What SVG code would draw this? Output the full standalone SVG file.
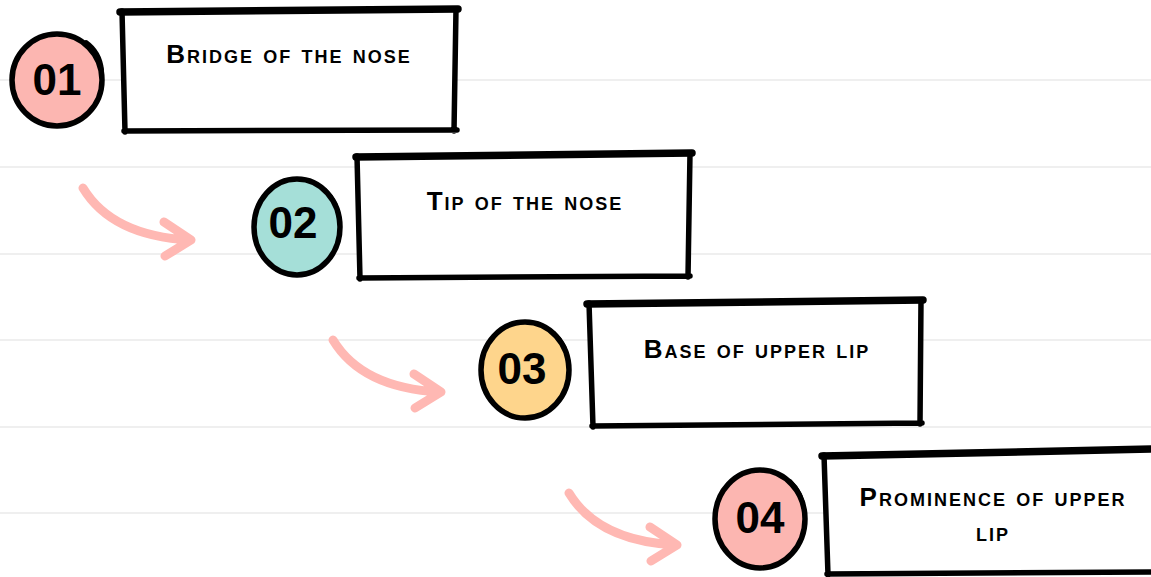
<svg xmlns="http://www.w3.org/2000/svg" width="1151" height="577" viewBox="0 0 1151 577">
<style>
.bg{stroke:#efefef;stroke-width:2}
.box{fill:#ffffff;stroke:none}
.edge{fill:none;stroke:#000;stroke-width:5.5;stroke-linecap:round;stroke-linejoin:round}
.top{stroke-width:7.5}
.ring{stroke:#000;stroke-width:5.5}
.tail{fill:none;stroke:#000;stroke-width:4;stroke-linecap:round}
.num{font-family:"Liberation Sans",Arial,sans-serif;font-weight:700;font-size:44px;fill:#000;text-anchor:middle}
.lbl{font-family:"Liberation Sans",Arial,sans-serif;font-weight:700;font-size:26px;font-variant:small-caps;letter-spacing:2px;fill:#000;text-anchor:middle}
.arr{fill:none;stroke:#ffb8b3;stroke-width:9;stroke-linecap:round;stroke-linejoin:round}
</style>
<rect x="0" y="0" width="1151" height="577" fill="#ffffff"/>
<g id="background">
<line class="bg" x1="0" y1="80" x2="1151" y2="80"/>
<line class="bg" x1="0" y1="167" x2="1151" y2="167"/>
<line class="bg" x1="0" y1="254" x2="1151" y2="254"/>
<line class="bg" x1="0" y1="340" x2="1151" y2="340"/>
<line class="bg" x1="0" y1="427" x2="1151" y2="427"/>
<line class="bg" x1="0" y1="513" x2="1151" y2="513"/>
</g>
<g id="connectors">
<path class="arr" d="M83,188 Q112,236 190,240 M164,222 L191,240 L165,256"/>
<path class="arr" d="M333,340 Q362,388 440,392 M414,374 L441,392 L415,408"/>
<path class="arr" d="M569,493 Q598,541 676,545 M650,527 L677,545 L651,561"/>
</g>
<g id="node1">
<ellipse cx="57" cy="80" rx="45" ry="46" fill="#fcb6b1" class="ring"/>
<path class="tail" d="M86,42 Q100,52 102,70"/>
<text class="num" x="57" y="95">01</text>
<rect class="box" x="123" y="11" width="333" height="120"/>
<path class="edge top" d="M120,12 L458,9"/>
<path class="edge" d="M456,9 L454,131 M457,130 L124,131 M125,132 L122,11"/>
<text class="lbl" x="289" y="63">Bridge of the nose</text>
</g>
<g id="node2">
<ellipse cx="297" cy="227" rx="43" ry="48" fill="#a5dfd8" class="ring"/>
<path class="tail" d="M325,190 Q338,202 339,220"/>
<text class="num" x="293" y="238">02</text>
<rect class="box" x="358" y="155" width="331" height="122"/>
<path class="edge top" d="M356,157 L692,153"/>
<path class="edge" d="M690,153 L688,277 M690,276 L359,278 M360,279 L357,156"/>
<text class="lbl" x="525" y="210">Tip of the nose</text>
</g>
<g id="node3">
<ellipse cx="525" cy="370" rx="44" ry="48" fill="#fed58c" class="ring"/>
<path class="tail" d="M554,333 Q567,345 568,363"/>
<text class="num" x="522" y="384">03</text>
<rect class="box" x="590" y="302" width="331" height="123"/>
<path class="edge top" d="M587,304 L923,300"/>
<path class="edge" d="M921,300 L920,424 M922,423 L592,426 M593,427 L589,303"/>
<text class="lbl" x="757" y="358">Base of upper lip</text>
</g>
<g id="node4">
<ellipse cx="760" cy="519" rx="45" ry="49" fill="#fcb6b1" class="ring"/>
<path class="tail" d="M790,481 Q803,493 804,511"/>
<text class="num" x="760" y="533">04</text>
<rect class="box" x="825" y="452" width="330" height="121"/>
<path class="edge top" d="M822,456 L1155,449"/>
<path class="edge" d="M1155,572 L827,574 M828,575 L824,455"/>
<text class="lbl" x="993" y="506">Prominence of upper</text>
<text class="lbl" x="993" y="541">lip</text>
</g>
</svg>
